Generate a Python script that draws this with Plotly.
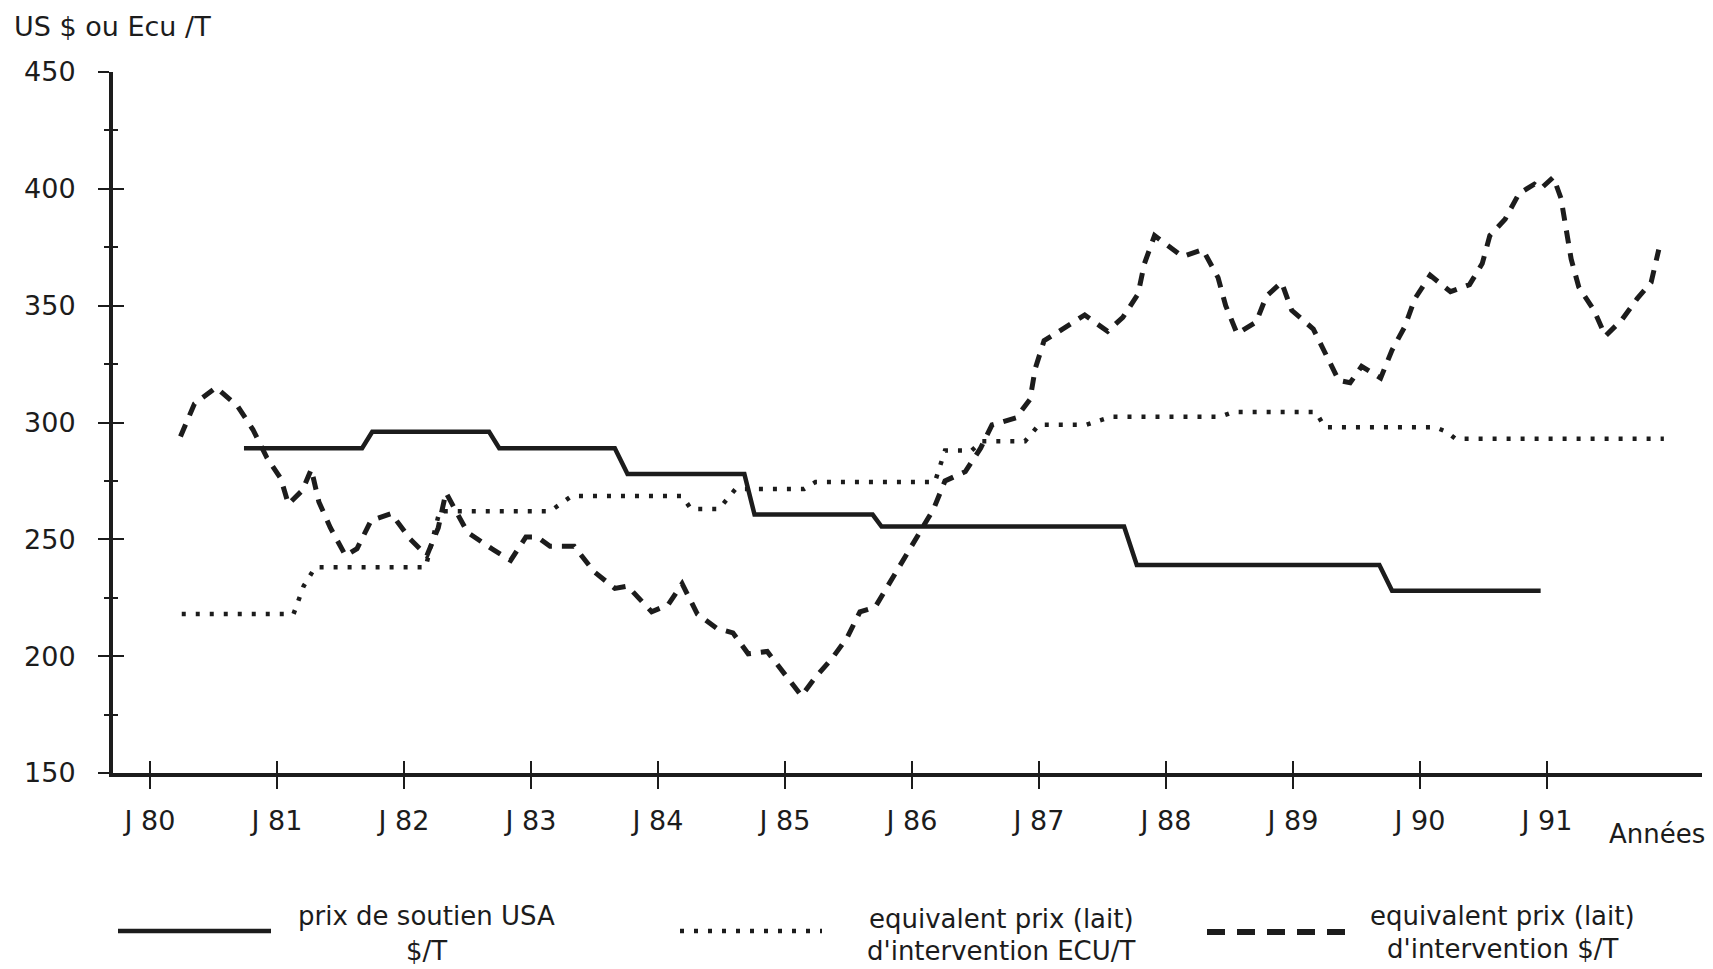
import plotly.graph_objects as go

# ---------------- data ----------------
tick_years = list(range(1980, 1992))
tick_labels = ["J 80", "J 81", "J 82", "J 83", "J 84", "J 85",
               "J 86", "J 87", "J 88", "J 89", "J 90", "J 91"]
y_ticks = [150, 200, 250, 300, 350, 400, 450]

# prix de soutien USA $/T
soutien_t = [1980.74, 1981.67, 1981.75, 1982.67, 1982.75, 1983.66, 1983.76,
             1984.68, 1984.76, 1985.69, 1985.76, 1987.67, 1987.77, 1989.68,
             1989.78, 1990.95]
soutien_v = [289, 289, 296, 296, 289, 289, 278,
             278, 260.6, 260.6, 255.5, 255.5, 239, 239,
             228, 228]

# equivalent prix (lait) d'intervention ECU/T
ecu_t = [1980.25, 1981.13, 1981.21, 1981.30, 1982.17, 1982.28, 1983.15,
         1983.32, 1984.19, 1984.26, 1984.48, 1984.61, 1985.15, 1985.24,
         1986.18, 1986.26, 1986.47, 1986.55, 1986.89, 1987.0, 1987.37,
         1987.57, 1988.43, 1988.53, 1989.18, 1989.25, 1990.12, 1990.21,
         1990.28, 1991.92]
ecu_v = [218, 218, 230, 238, 238, 262, 262,
         268.5, 268.5, 263, 263, 271.5, 271.5, 274.5,
         274.5, 288, 288, 292, 292, 299, 299,
         302.5, 302.5, 304.5, 304.5, 298, 298, 296,
         293, 293]

# equivalent prix (lait) d'intervention $/T
usd_t = [1980.24, 1980.35, 1980.52, 1980.69, 1980.81, 1980.92, 1981.03,
         1981.09, 1981.20, 1981.27, 1981.33, 1981.42, 1981.54, 1981.63,
         1981.74, 1981.90, 1982.05, 1982.18, 1982.27, 1982.33, 1982.40,
         1982.50, 1982.69, 1982.84, 1982.96, 1983.05, 1983.15, 1983.34,
         1983.50, 1983.66, 1983.76, 1983.95, 1984.08, 1984.19, 1984.31,
         1984.46, 1984.59, 1984.71, 1984.86, 1985.00, 1985.13, 1985.24,
         1985.37, 1985.49, 1985.59, 1985.71, 1985.82, 1985.94, 1986.05,
         1986.17, 1986.26, 1986.42, 1986.54, 1986.63, 1986.82, 1986.93,
         1986.97, 1987.04, 1987.21, 1987.36, 1987.54, 1987.66, 1987.78,
         1987.83, 1987.91, 1988.03, 1988.13, 1988.29, 1988.41, 1988.47,
         1988.56, 1988.71, 1988.79, 1988.91, 1988.99, 1989.16, 1989.26,
         1989.36, 1989.45, 1989.54, 1989.69, 1989.78, 1989.88, 1989.96,
         1990.08, 1990.24, 1990.39, 1990.49, 1990.55, 1990.67, 1990.78,
         1990.90, 1990.95, 1991.05, 1991.11, 1991.19, 1991.25, 1991.37,
         1991.46, 1991.59, 1991.71, 1991.82, 1991.88]
usd_v = [294, 308, 315, 307, 297, 285, 276,
         265, 271, 280, 266, 255, 243, 246,
         258, 261, 250, 243, 255, 270, 263,
         253, 246, 241, 251, 251, 247, 247,
         236, 229, 230, 219, 222, 231, 218,
         212, 210, 201, 202, 192, 183, 191,
         199, 208, 219, 221, 231, 241, 252,
         263, 275, 279, 289, 299, 302, 310,
         323, 335, 341, 346, 339, 345, 355,
         368, 380, 375, 371, 374, 362, 350,
         338, 343, 354, 360, 348, 340, 329,
         318, 317, 324, 319, 331, 341, 353,
         363, 356, 359, 368, 380, 387, 398,
         402, 400, 405, 396, 370, 358, 348,
         337, 344, 353, 360, 374]

names = ["prix de soutien USA $/T",
         "equivalent prix (lait) d'intervention ECU/T",
         "equivalent prix (lait) d'intervention $/T"]

# ---------------- layout geometry ----------------
W, H = 1713, 969
L, R, T, B = 113, 1702, 72, 773
X0 = 1980 - (150 - L) / 127.0
X1 = 1980 + (R - 150) / 127.0

INK = "#1c1c1c"
FONT = "DejaVu Sans"


def pp(xp, yp):
    """pixel position -> paper coordinates"""
    return (xp - L) / (R - L), (B - yp) / (B - T)


fig = go.Figure()
fig.add_trace(go.Scatter(x=soutien_t, y=soutien_v, mode="lines", name=names[0],
                         line=dict(color=INK, width=4.5)))
fig.add_trace(go.Scatter(x=ecu_t, y=ecu_v, mode="lines", name=names[1],
                         line=dict(color=INK, width=4.5, dash="4px,10px")))
fig.add_trace(go.Scatter(x=usd_t, y=usd_v, mode="lines", name=names[2],
                         line=dict(color=INK, width=5, dash="13px,10px")))
# helper trace to carry the overlay axes (inside half of crossing ticks)
fig.add_trace(go.Scatter(x=[None], y=[None], xaxis="x2", yaxis="y2",
                         showlegend=False, hoverinfo="skip"))

axis_common = dict(showgrid=False, zeroline=False)

fig.update_layout(
    width=W, height=H,
    margin=dict(l=L, r=W - R, t=T, b=H - B, pad=0),
    paper_bgcolor="white", plot_bgcolor="white",
    showlegend=False,
    font=dict(family=FONT, color=INK, size=26),
    xaxis=dict(range=[X0, X1], domain=[0, 1], showline=True, linewidth=4,
               linecolor=INK, ticks="outside", ticklen=12, tickwidth=2,
               tickcolor=INK, tickmode="array", tickvals=tick_years,
               ticktext=tick_labels, tickfont=dict(size=27, family=FONT, color=INK),
               ticklabelstandoff=9, **axis_common),
    yaxis=dict(range=[150, 450], domain=[0, 1], showline=True, linewidth=4,
               linecolor=INK, ticks="outside", ticklen=11, tickwidth=2,
               tickcolor=INK, tickmode="array", tickvals=y_ticks,
               tickfont=dict(size=27, family=FONT, color=INK),
               ticklabelstandoff=17,
               minor=dict(dtick=25, ticks="outside", ticklen=5, tickwidth=2,
                          tickcolor=INK, showgrid=False),
               **axis_common),
    xaxis2=dict(range=[X0, X1], overlaying="x", anchor="y2", side="bottom",
                showline=False, ticks="inside", ticklen=12, tickwidth=2,
                tickcolor=INK, tickmode="array", tickvals=tick_years,
                showticklabels=False, **axis_common),
    yaxis2=dict(range=[150, 450], overlaying="y", anchor="x2", side="left",
                showline=False, ticks="inside", ticklen=11, tickwidth=2,
                tickcolor=INK, tickmode="array", tickvals=y_ticks,
                showticklabels=False,
                minor=dict(dtick=25, ticks="inside", ticklen=5, tickwidth=2,
                           tickcolor=INK, showgrid=False),
                **axis_common),
)

annotations = []


def add_text(text, xp, yp, size=26, xanchor="center"):
    x, y = pp(xp, yp)
    annotations.append(dict(text=text, x=x, y=y, xref="paper", yref="paper",
                            xanchor=xanchor, yanchor="middle", showarrow=False,
                            font=dict(family=FONT, size=size, color=INK)))


add_text("US $ ou Ecu /T", 12, 27, size=27, xanchor="left")
add_text("Années", 1657, 834, size=26)
add_text("prix de soutien USA", 426, 916)
add_text("$/T", 426, 951)
add_text("equivalent prix (lait)", 1001, 919)
add_text("d'intervention ECU/T", 1001, 951)
add_text("equivalent prix (lait)", 1502, 916)
add_text("d'intervention $/T", 1502, 949)
fig.update_layout(annotations=annotations)

# legend line samples
shapes = []
for (xa, xb, yp, w, dash) in [(118, 271, 931, 4.5, "solid"),
                              (680, 822, 931, 4.5, "4px,10px"),
                              (1207, 1346, 932, 6, "18px,12px")]:
    xa_p, y_p = pp(xa, yp)
    xb_p, _ = pp(xb, yp)
    shapes.append(dict(type="line", xref="paper", yref="paper",
                       x0=xa_p, x1=xb_p, y0=y_p, y1=y_p,
                       line=dict(color=INK, width=w, dash=dash)))
fig.update_layout(shapes=shapes)

fig.write_html("out.html",
               config={"displayModeBar": False},
               post_script="document.body.style.margin='0px';"
                           "document.body.style.overflow='hidden';")
